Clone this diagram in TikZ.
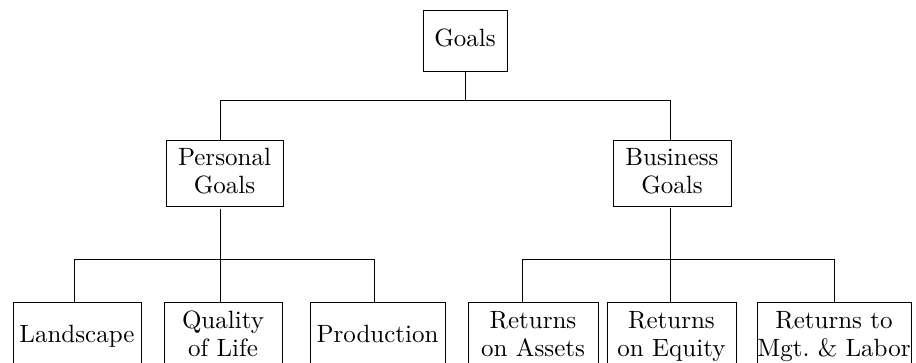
\documentclass[tikz,border=0pt]{standalone}
\usepackage{fontspec}
\setmainfont{lmroman10-regular.otf}
\usetikzlibrary{calc}
\newcommand{\mystrut}{\rule[-5pt]{0pt}{22pt}}
\begin{document}
\begin{tikzpicture}[x=1pt,y=-1pt,
  box/.style={draw,line width=0.9pt,align=center,inner sep=0pt,
    font=\fontsize{25}{28}\selectfont},
  conn/.style={line width=0.8pt}]
\useasboundingbox (0,0) rectangle (916,362);
\clip (0,0) rectangle (916,362);
\coordinate (bar1) at (0,100);
\coordinate (bar2) at (0,259);
% top
\node[box,minimum width=84pt,minimum height=61pt] (goals) at (465,40.5) {\mystrut Goals};
% level 2
\node[box,minimum width=117pt,minimum height=66pt] (personal) at (224.5,173) {\mystrut Personal\\\mystrut Goals};
\node[box,minimum width=118pt,minimum height=66pt] (business) at (672,173) {\mystrut Business\\\mystrut Goals};
% level 3
\node[box,minimum width=128pt,minimum height=68pt] (landscape) at (77,336.5) {\mystrut Landscape};
\node[box,minimum width=118pt,minimum height=68pt] (quality) at (223,336.5) {\mystrut Quality\\\mystrut of Life};
\node[box,minimum width=135pt,minimum height=68pt] (production) at (377.5,336.5) {\mystrut Production};
\node[box,minimum width=130pt,minimum height=68pt] (assets) at (533,336.5) {\mystrut Returns\\\mystrut on Assets};
\node[box,minimum width=129pt,minimum height=68pt] (equity) at (671.5,336.5) {\mystrut Returns\\\mystrut on Equity};
\node[box,minimum width=154pt,minimum height=68pt] (mgt) at (834,336.5) {\mystrut Returns to\\\mystrut Mgt.\ \&\ Labor};
% connectors
\draw[conn] (goals.south) -- (goals.south |- bar1);
\draw[conn] ([xshift=-4pt]personal.north) |- ([xshift=-2pt]business.north |- bar1) -- ([xshift=-2pt]business.north);
\draw[conn,shorten <=3pt] ([xshift=-4pt]personal.south) -- ([xshift=-4pt]personal.south |- quality.north);
\draw[conn] ([xshift=-3pt]landscape.north) |- ([xshift=-3.5pt]production.north |- bar2) -- ([xshift=-3.5pt]production.north);
\draw[conn,shorten <=2pt] ([xshift=-2pt]business.south) -- ([xshift=-2pt]business.south |- equity.north);
\draw[conn] ([xshift=-11pt]assets.north) |- (mgt.north |- bar2) -- (mgt.north);
\end{tikzpicture}
\end{document}
